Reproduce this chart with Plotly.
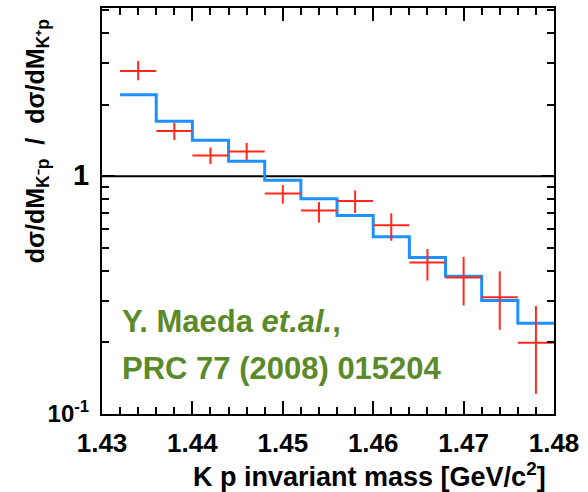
import plotly.graph_objects as go

# Data (ratio of K-p to K+p invariant mass spectra)
mass = [1.434, 1.438, 1.442, 1.446, 1.450, 1.454, 1.458, 1.462, 1.466, 1.470, 1.474, 1.478]
mass_halfwidth = [0.002] * 12
ratio = [2.77, 1.55, 1.22, 1.27, 0.846, 0.718, 0.786, 0.622, 0.433, 0.375, 0.310, 0.1995]
err_up = [0.28, 0.13, 0.10, 0.11, 0.071, 0.060, 0.085, 0.076, 0.061, 0.083, 0.088, 0.085]
err_down = [0.24, 0.13, 0.095, 0.10, 0.080, 0.080, 0.086, 0.087, 0.069, 0.089, 0.084, 0.078]

sim_edges = [1.432, 1.436, 1.440, 1.444, 1.448, 1.452, 1.456, 1.460, 1.464, 1.468, 1.472, 1.476, 1.480]
sim_values = [2.20, 1.70, 1.415, 1.155, 0.962, 0.804, 0.684, 0.556, 0.455, 0.379, 0.300, 0.241]

x_ticks = [1.43, 1.44, 1.45, 1.46, 1.47, 1.48]
x_ticklabels = ["1.43", "1.44", "1.45", "1.46", "1.47", "1.48"]
y_ticks = [0.1, 1]
y_ticklabels = ["10<sup>-1</sup>", "<span style='font-size:29px'>1</span>"]
y_minor = [0.2, 0.3, 0.4, 0.5, 0.6, 0.7, 0.8, 0.9, 2, 3, 4, 5]

FONT = "Liberation Sans, Arial, sans-serif"
RED = "#ff2a1a"
BLUE = "#1e90ff"
GREEN = "#5b8a2a"

fig = go.Figure()

# reference line at ratio = 1
fig.add_trace(go.Scatter(x=[x_ticks[0], x_ticks[-1]], y=[1, 1], mode="lines",
                         line=dict(color="black", width=2), hoverinfo="skip", showlegend=False))

# simulation histogram
fig.add_trace(go.Scatter(x=sim_edges, y=sim_values + [sim_values[-1]], mode="lines",
                         line=dict(color=BLUE, width=3, shape="hv"), showlegend=False))

# data points
fig.add_trace(go.Scatter(
    x=mass, y=ratio, mode="markers",
    marker=dict(size=1, color=RED),
    error_x=dict(type="data", array=mass_halfwidth, color=RED, thickness=2, width=0),
    error_y=dict(type="data", array=err_up, arrayminus=err_down, symmetric=False,
                 color=RED, thickness=2, width=0),
    showlegend=False))

fig.update_layout(
    width=588, height=492,
    margin=dict(l=102, r=34, t=6, b=78),
    paper_bgcolor="white", plot_bgcolor="white",
    font=dict(family=FONT, color="black"),
    xaxis=dict(
        range=[1.43, 1.48], tickvals=x_ticks, ticktext=x_ticklabels,
        ticks="inside", ticklen=13, tickwidth=1.5, tickcolor="black",
        showline=True, linecolor="black", linewidth=2, mirror="ticks",
        showgrid=False, zeroline=False, ticklabelstandoff=5,
        tickfont=dict(size=26, weight="bold", family=FONT),
        minor=dict(dtick=0.002, tick0=1.43, ticks="inside", ticklen=7, tickcolor="black",
                   tickwidth=1.5, showgrid=False),
    ),
    yaxis=dict(
        type="log", range=[-1, 0.707], tickvals=y_ticks, ticktext=y_ticklabels,
        ticks="inside", ticklen=13, tickwidth=1.5, tickcolor="black",
        showline=True, linecolor="black", linewidth=2, mirror="ticks",
        showgrid=False, zeroline=False, ticklabelstandoff=6,
        tickfont=dict(size=24, weight="bold", family=FONT),
        minor=dict(tickvals=y_minor, ticks="inside", ticklen=7, tickcolor="black",
                   tickwidth=1.5, showgrid=False),
    ),
    annotations=[
        dict(text="dσ/dM<sub>K⁻p</sub>  /  dσ/dM<sub>K⁺p</sub>", textangle=-90,
             xref="paper", yref="paper", x=-0.1438, y=0.6716, showarrow=False,
             xanchor="center", yanchor="middle",
             font=dict(size=25, weight="bold", family=FONT, color="black")),
        dict(text="K p invariant mass [GeV/c<sup>2</sup>]",
             xref="paper", yref="paper", x=0.9867, y=-0.1495, showarrow=False,
             xanchor="right", yanchor="middle",
             font=dict(size=27, weight="bold", family=FONT, color="black")),
        dict(text="Y. Maeda <i>et.al.</i>,",
             xref="paper", yref="paper", x=0.040, y=0.227, showarrow=False,
             xanchor="left", yanchor="middle",
             font=dict(size=31, weight="bold", family=FONT, color=GREEN)),
        dict(text="PRC 77 (2008) 015204",
             xref="paper", yref="paper", x=0.040, y=0.112, showarrow=False,
             xanchor="left", yanchor="middle",
             font=dict(size=31, weight="bold", family=FONT, color=GREEN)),
    ],
)

fig.write_html("out.html")
